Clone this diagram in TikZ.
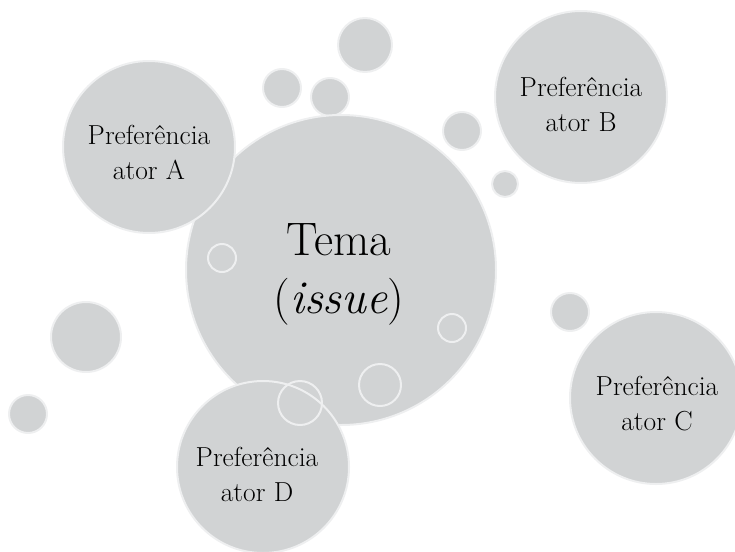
\documentclass[tikz,border=0pt]{standalone}
\usepackage{tikz}
\definecolor{bolhacinza}{RGB}{209,211,212}
\definecolor{bordaclara}{RGB}{238,239,240}
\tikzset{
  bolha/.style={circle, fill=bolhacinza, draw=bordaclara, line width=2pt, inner sep=0pt},
  anel/.style={circle, draw=bordaclara, line width=2pt, inner sep=0pt},
  pref/.style={align=center, font=\fontsize{27.5}{35}\selectfont},
}
\begin{document}
\begin{tikzpicture}[x=1pt,y=-1pt]
\useasboundingbox (0,0) rectangle (735,551);

% small bubbles
\node (s1) at (365,45) [bolha, minimum size=54pt] {};
\node (s2) at (282,88) [bolha, minimum size=38pt] {};
\node (s3) at (330,97) [bolha, minimum size=38pt] {};
\node (s4) at (462,131) [bolha, minimum size=38pt] {};
\node (s5) at (505,184) [bolha, minimum size=26pt] {};
\node (s6) at (86,337) [bolha, minimum size=70pt] {};
\node (s7) at (28,414) [bolha, minimum size=38pt] {};
\node (s8) at (570,312) [bolha, minimum size=38pt] {};

% tema
\node (tema) at (341,270) [bolha, minimum size=310pt] {};
\node (tematxt) at (339,274) [align=center, font=\fontsize{47}{58}\selectfont] {Tema\\(\textit{issue})};

% preferencias
\node (atorA) at (149,147) [bolha, minimum size=172pt] {};
\node (atorAtxt) at (149,152) [pref] {Preferência\\ator A};
\node (atorB) at (581,97) [bolha, minimum size=172pt] {};
\node (atorBtxt) at (581,104) [pref] {Preferência\\ator B};
\node (atorC) at (656,398) [bolha, minimum size=172pt] {};
\node (atorCtxt) at (657,404) [pref] {Preferência\\ator C};
\node (atorD) at (263,467) [bolha, minimum size=172pt] {};
\node (atorDtxt) at (257,474) [pref] {Preferência\\ator D};

% open rings
\node (r1) at (222,258) [anel, minimum size=28pt] {};
\node (r2) at (452,328) [anel, minimum size=28pt] {};
\node (r3) at (380,385) [anel, minimum size=42pt] {};
\node (r4) at (300,403) [anel, minimum size=44pt] {};

\end{tikzpicture}
\end{document}
